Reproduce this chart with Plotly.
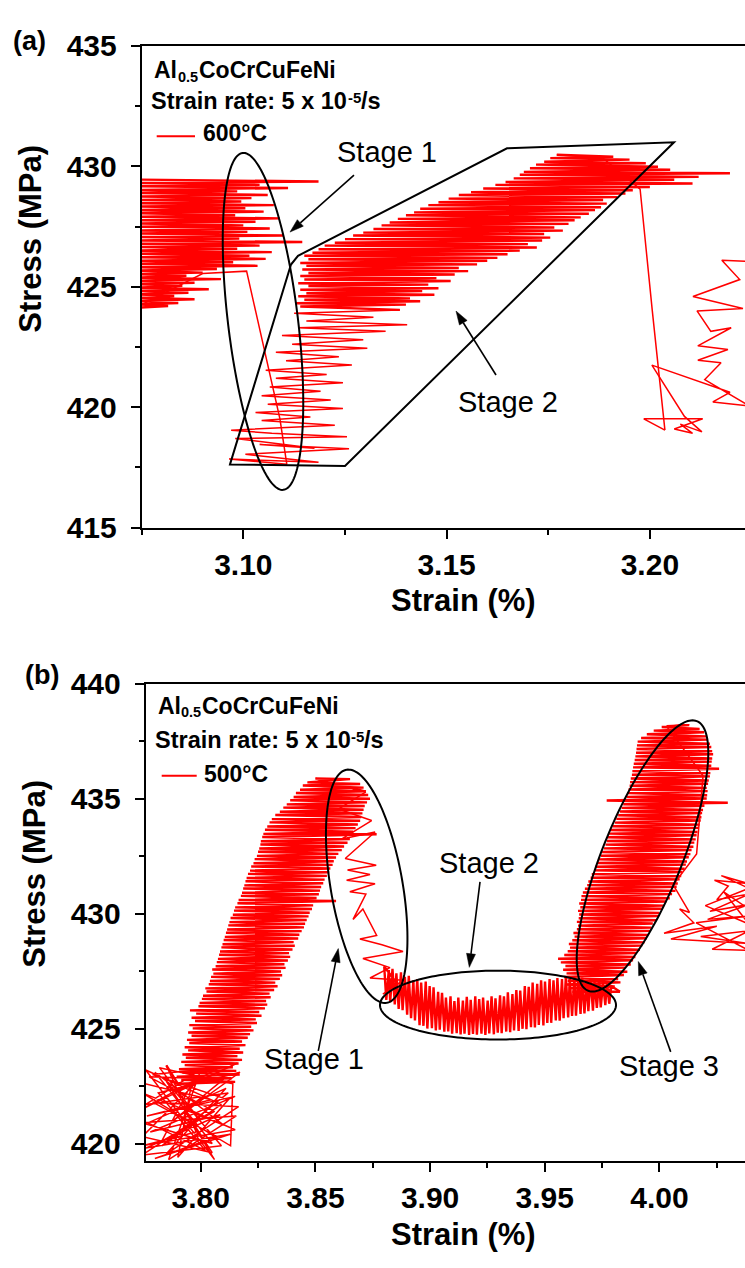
import numpy as np
import plotly.graph_objects as go

# ================= Panel (a): Al0.5CoCrCuFeNi, 600 °C =================
# upper-left dense serration band, then the drop line (last 4 points)
a1_strain = [3.0735, 3.1185, 3.0735, 3.1040, 3.0735, 3.1110, 3.0735, 3.0985, 3.0735, 3.1060,
             3.0735, 3.1020, 3.0735, 3.0995, 3.0735, 3.1075, 3.0735, 3.1005, 3.0735, 3.1050,
             3.0735, 3.0980, 3.0735, 3.1090, 3.0735, 3.1030, 3.0735, 3.1000, 3.0735, 3.1065,
             3.0735, 3.1010, 3.0735, 3.1100, 3.0735, 3.0990, 3.0735, 3.1145, 3.0735, 3.1040,
             3.0735, 3.0985, 3.0735, 3.1070, 3.0735, 3.1015, 3.0735, 3.1055, 3.0735, 3.0975,
             3.0735, 3.1035, 3.0735, 3.0935, 3.0735, 3.0900, 3.0735, 3.0860, 3.0735, 3.0945,
             3.0735, 3.0880, 3.0735, 3.0850, 3.0735, 3.0915, 3.0735, 3.0865, 3.0735, 3.0830,
             3.0735, 3.0880, 3.0735, 3.0840, 3.0735, 3.0815, 3.0735, 3.0900, 3.1008, 3.1090,
             3.1107]
a1_stress = [429.45, 429.37, 429.31, 429.23, 429.17, 429.10, 429.02, 428.96, 428.89, 428.81,
             428.75, 428.68, 428.60, 428.54, 428.47, 428.39, 428.33, 428.26, 428.18, 428.12,
             428.05, 427.97, 427.91, 427.84, 427.76, 427.70, 427.63, 427.55, 427.49, 427.42,
             427.34, 427.28, 427.21, 427.13, 427.07, 427.00, 426.92, 426.86, 426.79, 426.71,
             426.65, 426.58, 426.50, 426.44, 426.37, 426.29, 426.23, 426.16, 426.08, 426.02,
             425.95, 425.87, 425.81, 425.74, 425.67, 425.59, 425.53, 425.46, 425.38, 425.32,
             425.25, 425.17, 425.11, 425.04, 424.96, 424.90, 424.83, 424.75, 424.69, 424.62,
             424.54, 424.48, 424.41, 424.33, 424.27, 424.20, 424.13, 425.55, 425.65, 419.52,
             417.63]

# serrations at the bottom and the rising column
a2_strain = [3.0965, 3.1185, 3.1005, 3.1260, 3.1040, 3.1175, 3.0980, 3.1255, 3.1070, 3.0970,
             3.1225, 3.1045, 3.1165, 3.1030, 3.1245, 3.1060, 3.1215, 3.1045, 3.1190, 3.1065,
             3.1245, 3.1080, 3.1205, 3.1055, 3.1267, 3.1105, 3.1235, 3.1080, 3.1305, 3.1120,
             3.1295, 3.1095, 3.1350, 3.1135, 3.1403, 3.1155, 3.1320, 3.1125, 3.1385]
a2_stress = [417.85, 417.72, 418.05, 418.28, 418.45, 418.30, 418.70, 418.78, 418.92, 419.05,
             419.25, 419.45, 419.60, 419.78, 419.95, 420.12, 420.30, 420.48, 420.66, 420.84,
             421.02, 421.20, 421.36, 421.54, 421.75, 421.93, 422.10, 422.28, 422.45, 422.62,
             422.80, 422.98, 423.15, 423.30, 423.42, 423.58, 423.74, 423.90, 424.04]

# stage-2 rising band and the final drop (last 4 points)
a3_strain = [3.1140, 3.1400, 3.1130, 3.1435, 3.1150, 3.1410, 3.1135, 3.1470, 3.1155, 3.1440,
             3.1140, 3.1480, 3.1160, 3.1455, 3.1135, 3.1510, 3.1150, 3.1475, 3.1140, 3.1520,
             3.1160, 3.1553, 3.1145, 3.1530, 3.1155, 3.1575, 3.1140, 3.1600, 3.1160, 3.1625,
             3.1150, 3.1650, 3.1170, 3.1680, 3.1185, 3.1722, 3.1200, 3.1700, 3.1225, 3.1735,
             3.1250, 3.1755, 3.1270, 3.1740, 3.1295, 3.1786, 3.1320, 3.1765, 3.1340, 3.1800,
             3.1360, 3.1815, 3.1380, 3.1830, 3.1400, 3.1850, 3.1420, 3.1865, 3.1435, 3.1880,
             3.1455, 3.1894, 3.1480, 3.1885, 3.1505, 3.1920, 3.1530, 3.1940, 3.1560, 3.1958,
             3.1590, 3.2000, 3.1620, 3.2105, 3.1645, 3.2060, 3.1665, 3.2120, 3.1680, 3.2197,
             3.1690, 3.2050, 3.1705, 3.2020, 3.1720, 3.1990, 3.1740, 3.1950, 3.1755, 3.1910,
             3.1771, 3.1884, 3.1976, 3.2006, 3.2037]
a3_stress = [424.18, 424.26, 424.32, 424.40, 424.46, 424.52, 424.61, 424.67, 424.73, 424.82,
             424.88, 424.94, 425.03, 425.09, 425.15, 425.24, 425.30, 425.36, 425.45, 425.51,
             425.57, 425.65, 425.72, 425.78, 425.87, 425.93, 425.99, 426.08, 426.14, 426.20,
             426.29, 426.35, 426.41, 426.50, 426.56, 426.63, 426.71, 426.77, 426.83, 426.92,
             426.98, 427.04, 427.13, 427.19, 427.25, 427.33, 427.40, 427.46, 427.55, 427.61,
             427.67, 427.76, 427.82, 427.88, 427.97, 428.03, 428.09, 428.18, 428.24, 428.30,
             428.39, 428.45, 428.51, 428.60, 428.66, 428.72, 428.81, 428.87, 428.93, 429.01,
             429.08, 429.14, 429.23, 429.29, 429.35, 429.44, 429.50, 429.56, 429.65, 429.71,
             429.77, 429.86, 429.92, 429.98, 430.07, 430.13, 430.19, 430.28, 430.34, 430.40,
             430.48, 430.35, 429.05, 424.00, 419.05]

# serrations after the drop
a4_strain = [3.1985, 3.2130, 3.2060, 3.2105, 3.2075, 3.2128, 3.2085, 3.2005, 3.2197, 3.2155,
             3.2245, 3.2135, 3.2175, 3.2118, 3.2192, 3.2118, 3.2200, 3.2150, 3.2116, 3.2229,
             3.2106, 3.2221, 3.2177, 3.2245]
a4_stress = [419.52, 419.52, 419.10, 418.92, 419.30, 418.98, 419.62, 421.75, 420.62, 420.22,
             420.05, 421.15, 421.85, 421.95, 422.40, 422.55, 423.30, 423.15, 424.00, 424.10,
             424.60, 425.30, 426.10, 426.05]

# ================= Panel (b): Al0.5CoCrCuFeNi, 500 °C =================
# bottom-left cluster
b1_strain = [3.7755, 3.8045, 3.7765, 3.8150, 3.7780, 3.8085, 3.7760, 3.8128, 3.7800, 3.8070,
             3.7790, 3.8165, 3.7850, 3.8110, 3.7770, 3.8020, 3.7815, 3.8171, 3.7880, 3.8100,
             3.7775, 3.8060, 3.7830, 3.7960, 3.7900, 3.8120, 3.7790, 3.8080, 3.7900, 3.8160,
             3.7745, 3.8010, 3.7745, 3.8050, 3.7850, 3.8090, 3.7745, 3.7990, 3.7820, 3.8140,
             3.8130, 3.7745, 3.8100, 3.7800, 3.8050, 3.7745, 3.8155, 3.7860, 3.8000, 3.7760,
             3.8120, 3.7830, 3.8090, 3.7760, 3.8060, 3.7920, 3.8150, 3.7745, 3.7980, 3.7850]
b1_stress = [422.60, 421.90, 421.20, 422.05, 420.50, 421.25, 419.80, 420.40, 419.35, 420.30,
             421.80, 421.60, 419.55, 422.40, 420.90, 419.70, 422.20, 423.10, 421.00, 422.80,
             422.90, 421.40, 420.10, 422.60, 419.40, 421.90, 423.00, 423.30, 422.30, 423.50,
             421.50, 422.95, 420.30, 419.60, 422.70, 419.90, 419.50, 421.10, 423.30, 422.60,
             419.90, 422.20, 420.80, 423.10, 420.00, 420.90, 421.20, 419.30, 423.20, 421.70,
             422.20, 419.90, 421.70, 423.20, 419.30, 421.60, 420.60, 419.90, 420.50, 423.40]

# main rising band
b2_strain = [3.7900, 3.8150, 3.7915, 3.8135, 3.7895, 3.8170, 3.7920, 3.8155, 3.7905, 3.8140,
             3.7930, 3.8165, 3.7915, 3.8180, 3.7935, 3.8160, 3.7920, 3.8185, 3.7945, 3.8170,
             3.7930, 3.8195, 3.7950, 3.8180, 3.7940, 3.8205, 3.7960, 3.8215, 3.7945, 3.8230,
             3.7965, 3.8220, 3.7950, 3.8245, 3.7975, 3.8240, 3.7960, 3.8265, 3.7980, 3.8255,
             3.7953, 3.8280, 3.7990, 3.8290, 3.7995, 3.8285, 3.8005, 3.8305, 3.8010, 3.8300,
             3.8025, 3.8320, 3.8020, 3.8335, 3.8035, 3.8325, 3.8040, 3.8345, 3.8045, 3.8355,
             3.8055, 3.8350, 3.8050, 3.8370, 3.8065, 3.8365, 3.8070, 3.8380, 3.8075, 3.8390,
             3.8080, 3.8385, 3.8084, 3.8400, 3.8090, 3.8410, 3.8095, 3.8405, 3.8100, 3.8425,
             3.8105, 3.8430, 3.8110, 3.8440, 3.8115, 3.8450, 3.8120, 3.8455, 3.8125, 3.8462,
             3.8130, 3.8470, 3.8140, 3.8475, 3.8145, 3.8485, 3.8150, 3.8490, 3.8160, 3.8590,
             3.8165, 3.8505, 3.8175, 3.8515, 3.8180, 3.8520, 3.8185, 3.8525, 3.8190, 3.8534,
             3.8195, 3.8540, 3.8200, 3.8550, 3.8206, 3.8560, 3.8215, 3.8565, 3.8220, 3.8575,
             3.8230, 3.8580, 3.8235, 3.8590, 3.8245, 3.8600, 3.8250, 3.8615, 3.8255, 3.8625,
             3.8260, 3.8640, 3.8262, 3.8650, 3.8268, 3.8767, 3.8273, 3.8665, 3.8280, 3.8675,
             3.8290, 3.8685, 3.8300, 3.8695, 3.8310, 3.8700, 3.8325, 3.8705, 3.8345, 3.8710,
             3.8360, 3.8715, 3.8375, 3.8725, 3.8390, 3.8738, 3.8405, 3.8730, 3.8415, 3.8720,
             3.8433, 3.8710, 3.8445, 3.8695, 3.8465, 3.8651, 3.8500, 3.8720]
b2_stress = [422.60, 422.68, 422.77, 422.84, 422.91, 423.00, 423.09, 423.16, 423.23, 423.32,
             423.41, 423.48, 423.55, 423.64, 423.73, 423.80, 423.87, 423.96, 424.05, 424.12,
             424.19, 424.28, 424.37, 424.44, 424.51, 424.60, 424.69, 424.76, 424.83, 424.92,
             425.01, 425.08, 425.15, 425.24, 425.33, 425.40, 425.47, 425.56, 425.65, 425.72,
             425.79, 425.88, 425.97, 426.04, 426.11, 426.20, 426.29, 426.36, 426.43, 426.52,
             426.61, 426.68, 426.75, 426.84, 426.93, 427.00, 427.07, 427.16, 427.25, 427.32,
             427.39, 427.48, 427.57, 427.64, 427.71, 427.80, 427.89, 427.96, 428.03, 428.12,
             428.21, 428.28, 428.35, 428.44, 428.53, 428.60, 428.67, 428.76, 428.85, 428.92,
             428.99, 429.08, 429.17, 429.24, 429.31, 429.40, 429.49, 429.56, 429.63, 429.72,
             429.81, 429.88, 429.95, 430.04, 430.13, 430.20, 430.27, 430.36, 430.45, 430.55,
             430.59, 430.68, 430.77, 430.84, 430.91, 431.00, 431.09, 431.16, 431.23, 431.32,
             431.41, 431.48, 431.55, 431.64, 431.73, 431.80, 431.87, 431.96, 432.05, 432.12,
             432.19, 432.28, 432.37, 432.44, 432.51, 432.60, 432.69, 432.76, 432.83, 432.92,
             433.01, 433.08, 433.15, 433.24, 433.33, 433.45, 433.47, 433.56, 433.65, 433.72,
             433.79, 433.88, 433.97, 434.04, 434.11, 434.20, 434.29, 434.36, 434.43, 434.52,
             434.61, 434.68, 434.75, 434.84, 434.93, 435.00, 435.07, 435.16, 435.25, 435.32,
             435.39, 435.48, 435.57, 435.64, 435.71, 435.85, 435.88, 435.30]

# stage 1: stress drop
b3_strain = [3.8600, 3.8745, 3.8615, 3.8760, 3.8630, 3.8765, 3.8640, 3.8738, 3.8636, 3.8760,
             3.8650, 3.8720, 3.8664, 3.8707, 3.8767, 3.8694, 3.8790, 3.8882, 3.8707, 3.8825,
             3.8738, 3.8882, 3.8794, 3.8860]
b3_stress = [434.55, 434.05, 433.25, 433.55, 432.40, 432.10, 431.90, 431.70, 431.45, 431.30,
             430.95, 430.85, 429.75, 430.20, 429.05, 428.90, 428.65, 428.35, 428.05, 427.65,
             427.20, 427.10, 426.50, 426.90]

# stage 2: low plateau
b4_strain = [3.8800, 3.8809, 3.8820, 3.8826, 3.8836, 3.8846, 3.8853, 3.8863, 3.8873, 3.8880,
             3.8890, 3.8900, 3.8907, 3.8917, 3.8927, 3.8934, 3.8944, 3.8954, 3.8961, 3.8971,
             3.8981, 3.8988, 3.8998, 3.9008, 3.9015, 3.9025, 3.9035, 3.9042, 3.9052, 3.9062,
             3.9069, 3.9079, 3.9089, 3.9096, 3.9106, 3.9116, 3.9123, 3.9133, 3.9143, 3.9150,
             3.9160, 3.9170, 3.9177, 3.9187, 3.9197, 3.9204, 3.9214, 3.9224, 3.9231, 3.9241,
             3.9251, 3.9258, 3.9268, 3.9278, 3.9285, 3.9295, 3.9305, 3.9312, 3.9322, 3.9332,
             3.9339, 3.9349, 3.9359, 3.9366, 3.9376, 3.9386, 3.9393, 3.9403, 3.9413, 3.9420,
             3.9430, 3.9440, 3.9447, 3.9457, 3.9467, 3.9474, 3.9484, 3.9494, 3.9501, 3.9511,
             3.9521, 3.9528, 3.9538, 3.9548, 3.9555, 3.9565, 3.9575, 3.9582, 3.9592, 3.9602,
             3.9609, 3.9619, 3.9629, 3.9636, 3.9646, 3.9656, 3.9663, 3.9673, 3.9683, 3.9690,
             3.9700, 3.9710, 3.9717, 3.9727, 3.9737, 3.9744, 3.9754, 3.9764, 3.9771, 3.9781,
             3.9790, 3.9828]
b4_stress = [427.70, 426.25, 427.55, 426.15, 427.60, 426.05, 427.40, 425.85, 427.45, 425.80,
             427.25, 425.60, 427.30, 425.45, 427.10, 425.35, 427.15, 425.15, 427.00, 425.12,
             427.05, 425.00, 426.85, 425.02, 426.80, 424.92, 426.60, 424.95, 426.55, 424.86,
             426.35, 424.88, 426.40, 424.78, 426.20, 424.80, 426.35, 424.74, 426.22, 424.78,
             426.38, 424.72, 426.25, 424.77, 426.40, 424.73, 426.28, 424.78, 426.35, 424.72,
             426.22, 424.79, 426.40, 424.75, 426.32, 424.82, 426.45, 424.80, 426.40, 424.87,
             426.58, 424.84, 426.50, 424.92, 426.68, 424.90, 426.65, 424.99, 426.85, 424.97,
             426.82, 425.06, 427.00, 425.05, 426.95, 425.16, 427.10, 425.14, 427.05, 425.24,
             427.15, 425.25, 427.10, 425.35, 427.20, 425.34, 427.15, 425.45, 427.25, 425.48,
             427.18, 425.55, 427.25, 425.56, 427.15, 425.64, 427.22, 425.66, 427.10, 425.76,
             427.15, 425.78, 427.02, 425.90, 427.08, 425.92, 426.95, 426.02, 427.00, 426.08,
             426.85, 426.60]

# stage 3: re-hardening band
b5_strain = [3.9620, 3.9790, 3.9605, 3.9805, 3.9595, 3.9830, 3.9600, 3.9820, 3.9585, 3.9845,
             3.9595, 3.9860, 3.9580, 3.9850, 3.9590, 3.9875, 3.9570, 3.9885, 3.9558, 3.9895,
             3.9585, 3.9900, 3.9600, 3.9915, 3.9610, 3.9925, 3.9605, 3.9935, 3.9620, 3.9945,
             3.9630, 3.9950, 3.9625, 3.9960, 3.9640, 3.9965, 3.9645, 3.9971, 3.9640, 3.9985,
             3.9648, 3.9995, 3.9650, 4.0000, 3.9645, 4.0010, 3.9655, 4.0020, 3.9650, 4.0030,
             3.9658, 4.0045, 3.9660, 4.0055, 3.9666, 4.0070, 3.9675, 4.0075, 3.9685, 4.0080,
             3.9690, 4.0088, 3.9700, 4.0095, 3.9705, 4.0100, 3.9715, 4.0110, 3.9720, 4.0115,
             3.9730, 4.0120, 3.9735, 4.0128, 3.9745, 4.0135, 3.9750, 4.0140, 3.9758, 4.0148,
             3.9765, 4.0152, 3.9770, 4.0158, 3.9772, 4.0162, 3.9778, 4.0166, 3.9785, 4.0170,
             3.9795, 4.0175, 3.9805, 4.0180, 3.9812, 4.0183, 3.9820, 4.0186, 3.9828, 4.0190,
             3.9835, 4.0196, 3.9842, 4.0298, 3.9770, 4.0206, 3.9857, 4.0208, 3.9860, 4.0210,
             3.9865, 4.0206, 3.9870, 4.0212, 3.9872, 4.0215, 3.9875, 4.0220, 3.9880, 4.0222,
             3.9882, 4.0260, 3.9885, 4.0226, 3.9888, 4.0228, 3.9892, 4.0230, 3.9895, 4.0234,
             3.9898, 4.0230, 3.9900, 4.0226, 3.9902, 4.0220, 3.9905, 4.0212, 3.9920, 4.0205,
             3.9945, 4.0195, 3.9975, 4.0175, 4.0010, 4.0130, 4.0031]
b5_stress = [426.60, 426.69, 426.76, 426.83, 426.92, 427.01, 427.08, 427.15, 427.24, 427.33,
             427.40, 427.47, 427.56, 427.65, 427.72, 427.79, 427.88, 427.97, 428.04, 428.11,
             428.20, 428.29, 428.36, 428.43, 428.52, 428.61, 428.68, 428.75, 428.84, 428.93,
             429.00, 429.07, 429.16, 429.25, 429.32, 429.39, 429.48, 429.57, 429.64, 429.71,
             429.80, 429.89, 429.96, 430.03, 430.12, 430.21, 430.28, 430.35, 430.44, 430.53,
             430.60, 430.67, 430.76, 430.85, 430.92, 430.99, 431.08, 431.17, 431.24, 431.31,
             431.40, 431.49, 431.56, 431.63, 431.72, 431.81, 431.88, 431.95, 432.04, 432.13,
             432.20, 432.27, 432.36, 432.45, 432.52, 432.59, 432.68, 432.77, 432.84, 432.91,
             433.00, 433.09, 433.16, 433.23, 433.32, 433.41, 433.48, 433.55, 433.64, 433.73,
             433.80, 433.87, 433.96, 434.05, 434.12, 434.19, 434.28, 434.37, 434.44, 434.51,
             434.60, 434.69, 434.76, 434.82, 434.92, 435.01, 435.08, 435.15, 435.24, 435.33,
             435.40, 435.47, 435.56, 435.65, 435.72, 435.79, 435.88, 435.97, 436.04, 436.11,
             436.20, 436.30, 436.36, 436.43, 436.52, 436.61, 436.68, 436.75, 436.84, 436.93,
             437.00, 437.07, 437.16, 437.25, 437.32, 437.39, 437.48, 437.57, 437.64, 437.71,
             437.80, 437.89, 437.96, 438.03, 438.12, 438.20, 438.15]

# right-hand cluster after stage 3
b6_strain = [4.0190, 4.0162, 4.0060, 4.0131, 4.0088, 4.0150, 4.0020, 4.0250, 4.0050, 4.0390,
             4.0180, 4.0390, 4.0230, 4.0390, 4.0160, 4.0390, 4.0210, 4.0390, 4.0220, 4.0390,
             4.0250, 4.0300, 4.0240, 4.0390, 4.0270, 4.0390, 4.0200, 4.0390, 4.0280, 4.0390]
b6_stress = [436.00, 432.60, 431.25, 430.05, 430.20, 429.60, 429.15, 429.45, 428.90, 428.70,
             429.00, 429.25, 428.45, 428.40, 429.60, 429.90, 429.75, 430.40, 430.10, 430.85,
             430.60, 431.20, 431.45, 431.30, 431.65, 431.10, 430.35, 429.55, 430.95, 430.20]

for i, (sx, sy) in enumerate([(a1_strain, a1_stress), (a2_strain, a2_stress), (a3_strain, a3_stress),
                              (a4_strain, a4_stress), (b1_strain, b1_stress), (b2_strain, b2_stress),
                              (b3_strain, b3_stress), (b4_strain, b4_stress), (b5_strain, b5_stress),
                              (b6_strain, b6_stress)]):
    if len(sx) != len(sy):
        raise ValueError(f"segment {i}: {len(sx)} vs {len(sy)}")

DENSE, THIN = 2.4, 1.5
# (strain, stress, line width); consecutive pieces share their joining point
pieces_a = [
    (a1_strain[:77], a1_stress[:77], DENSE),
    (a1_strain[76:], a1_stress[76:], THIN),
    (a1_strain[-1:] + a2_strain, a1_stress[-1:] + a2_stress, THIN),
    (a2_strain[-1:] + a3_strain[:91], a2_stress[-1:] + a3_stress[:91], DENSE),
    (a3_strain[90:], a3_stress[90:], THIN),
    (a3_strain[-1:] + a4_strain, a3_stress[-1:] + a4_stress, THIN),
]
pieces_b = [
    (b1_strain, b1_stress, THIN),
    (b1_strain[-1:] + b2_strain, b1_stress[-1:] + b2_stress, DENSE),
    (b2_strain[-1:] + b3_strain, b2_stress[-1:] + b3_stress, THIN),
    (b3_strain[-1:] + b4_strain, b3_stress[-1:] + b4_stress, DENSE),
    (b4_strain[-1:] + b5_strain, b4_stress[-1:] + b5_stress, DENSE),
    (b5_strain[-1:] + b6_strain, b5_stress[-1:] + b6_stress, THIN),
]

# ================= Figure =================
W, H = 745, 1268
FONT = "Liberation Sans, Arial, sans-serif"


def PX(x):
    return x / W


def PY(y):
    return 1 - y / H


fig = go.Figure()
for pieces, xa, ya in [(pieces_a, "x", "y"), (pieces_b, "x2", "y2")]:
    for sx, sy, w in pieces:
        fig.add_trace(go.Scatter(x=sx, y=sy, mode="lines", xaxis=xa, yaxis=ya,
                                 line=dict(color="#FF0000", width=w, simplify=False),
                                 hoverinfo="skip", showlegend=False))

tickfont = dict(family=FONT, size=30, color="black", weight="bold")
common = dict(showline=True, linecolor="black", linewidth=2, ticks="outside", ticklen=9, tickwidth=2,
              tickcolor="black", showgrid=False, zeroline=False, tickfont=tickfont)
minor_x = dict(ticks="outside", ticklen=5, tickwidth=2, tickcolor="black", dtick=0.025, showgrid=False)
minor_y = dict(ticks="outside", ticklen=5, tickwidth=2, tickcolor="black", dtick=2.5, showgrid=False)

fig.update_layout(
    width=W, height=H, margin=dict(l=0, r=0, t=0, b=0),
    plot_bgcolor="white", paper_bgcolor="white", showlegend=False,
    xaxis=dict(domain=[141.7 / W, 1], range=[3.075, 3.2234], tick0=3.0, dtick=0.05, tickformat=".2f",
               minor=dict(minor_x, tick0=3.0), mirror=True, anchor="y", **common),
    yaxis=dict(domain=[PY(525), PY(30.6)], range=[414.999, 435.001], tick0=0, dtick=5,
               minor=dict(minor_y, tick0=0), mirror=False, anchor="x", ticklabelstandoff=8, **common),
    xaxis2=dict(domain=[145.7 / W, 1], range=[3.776, 4.0373], tick0=3.0, dtick=0.05, tickformat=".2f",
                minor=dict(minor_x, tick0=3.0), mirror=True, anchor="y2", **common),
    yaxis2=dict(domain=[PY(1174.3), PY(685)], range=[419.254, 440.001], tick0=0, dtick=5,
                minor=dict(minor_y, tick0=0), mirror=False, anchor="x2", ticklabelstandoff=8, **common),
)

shapes = []
annotations = []


def ellipse(cx, cy, a, b, tilt_deg):
    th = np.radians(tilt_deg)
    t = np.linspace(0, 2 * np.pi, 181)
    x = cx + a * np.cos(t) * np.sin(th) + b * np.sin(t) * np.cos(th)
    y = cy - a * np.cos(t) * np.cos(th) + b * np.sin(t) * np.sin(th)
    path = "M " + " L ".join(f"{PX(xx):.5f},{PY(yy):.5f}" for xx, yy in zip(x, y)) + " Z"
    return dict(type="path", path=path, xref="paper", yref="paper",
                line=dict(color="black", width=2), layer="above")


def polygon(pts, fill=None, width=2):
    path = "M " + " L ".join(f"{PX(x):.5f},{PY(y):.5f}" for x, y in pts) + " Z"
    d = dict(type="path", path=path, xref="paper", yref="paper",
             line=dict(color="black", width=width), layer="above")
    if fill:
        d["fillcolor"] = fill
    return d


def arrow(tail, head, length=14, half=4.5):
    t = np.array(tail, float)
    h = np.array(head, float)
    d = (h - t) / np.linalg.norm(h - t)
    p = np.array([-d[1], d[0]])
    base = h - length * d
    c1 = base + half * p
    c2 = base - half * p
    return [
        dict(type="line", xref="paper", yref="paper", x0=PX(t[0]), y0=PY(t[1]),
             x1=PX(base[0]), y1=PY(base[1]), line=dict(color="black", width=1.6), layer="above"),
        polygon([tuple(h), tuple(c1), tuple(c2)], fill="black", width=0.5),
    ]


def label(x, y, text, size=29, bold=False, xanchor="center"):
    return dict(x=PX(x), y=PY(y), xref="paper", yref="paper", text=text, showarrow=False,
                xanchor=xanchor, yanchor="middle", borderpad=0,
                font=dict(family=FONT, size=size, color="black", weight="bold" if bold else "normal"))


# panel (a) annotations
shapes.append(ellipse(263, 313.3, 174, 35, -6.7))
shapes.append(polygon([(230, 460), (291, 255), (298, 246), (507, 135.7), (674, 129.5), (345, 461.7)]))
shapes += arrow((354, 163.3), (290, 221.7))
shapes += arrow((496, 368.3), (456, 302.7))
annotations.append(label(387.3, 140, "Stage 1"))
annotations.append(label(507.7, 396, "Stage 2"))

# panel (b) annotations
shapes.append(ellipse(366.7, 892.8, 121.2, 36, -9.5))
shapes.append(ellipse(498, 1014.7, 118, 35.3, 90))
shapes.append(ellipse(642.5, 861.7, 148.6, 40, 21.4))
shapes += arrow((318.3, 1061.7), (338.3, 956.7))
shapes += arrow((480, 888.3), (469.3, 976))
shapes += arrow((670.7, 1062.7), (638.3, 970))
annotations.append(label(314, 1070, "Stage 1"))
annotations.append(label(489, 869, "Stage 2"))
annotations.append(label(669, 1077, "Stage 3"))

# in-plot text blocks (alloy, strain rate, legend entry)
FS_MAIN, FS_RATE, FS_SMALL = 23, 23.5, 14.5
for (x_al, y1, x_sr, y2, x_t, y3, temp, lx0, lx1, ly) in [
    (153.3, 55.8, 150.3, 87.5, 201.7, 120.0, "600°C", 156.7, 195.0, 123.3),
    (156.7, 707.5, 153.7, 742.5, 203.3, 777.5, "500°C", 161.7, 196.7, 779.3),
]:
    annotations.append(label(x_al, y1, "Al", size=FS_MAIN, bold=True, xanchor="left"))
    annotations.append(label(x_al + 23.2, y1 + 6.5, "0.5", size=FS_SMALL, bold=True, xanchor="left"))
    annotations.append(label(x_al + 44.7, y1, "CoCrCuFeNi", size=FS_MAIN, bold=True, xanchor="left"))
    annotations.append(label(x_sr, y2, "Strain rate: 5 x 10", size=FS_RATE, bold=True, xanchor="left"))
    annotations.append(label(x_sr + 196.2, y2 - 3.5, "-5", size=15, bold=True, xanchor="left"))
    annotations.append(label(x_sr + 209.6, y2, "/s", size=FS_RATE, bold=True, xanchor="left"))
    annotations.append(label(x_t, y3, temp, size=FS_MAIN, bold=True, xanchor="left"))
    shapes.append(dict(type="line", xref="paper", yref="paper", x0=PX(lx0), x1=PX(lx1),
                       y0=PY(ly), y1=PY(ly), line=dict(color="#FF0000", width=2)))

# axis titles and panel labels
annotations.append(label(463, 600, "Strain (%)", size=31, bold=True))
annotations.append(label(463, 1250, "Strain (%)", size=31, bold=True))
for (x, y) in [(31, 228.5), (35, 880)]:
    annotations.append(dict(x=PX(x), y=PY(y), xref="paper", yref="paper", text="Stress (MPa)",
                            showarrow=False, textangle=-90, xanchor="center", yanchor="middle",
                            font=dict(family=FONT, size=31, color="black", weight="bold")))
annotations.append(label(30, 26, "(a)", size=27, bold=True))
annotations.append(label(41.5, 676.5, "(b)", size=27, bold=True))

fig.update_layout(shapes=shapes, annotations=annotations)
fig.write_html("out.html")
